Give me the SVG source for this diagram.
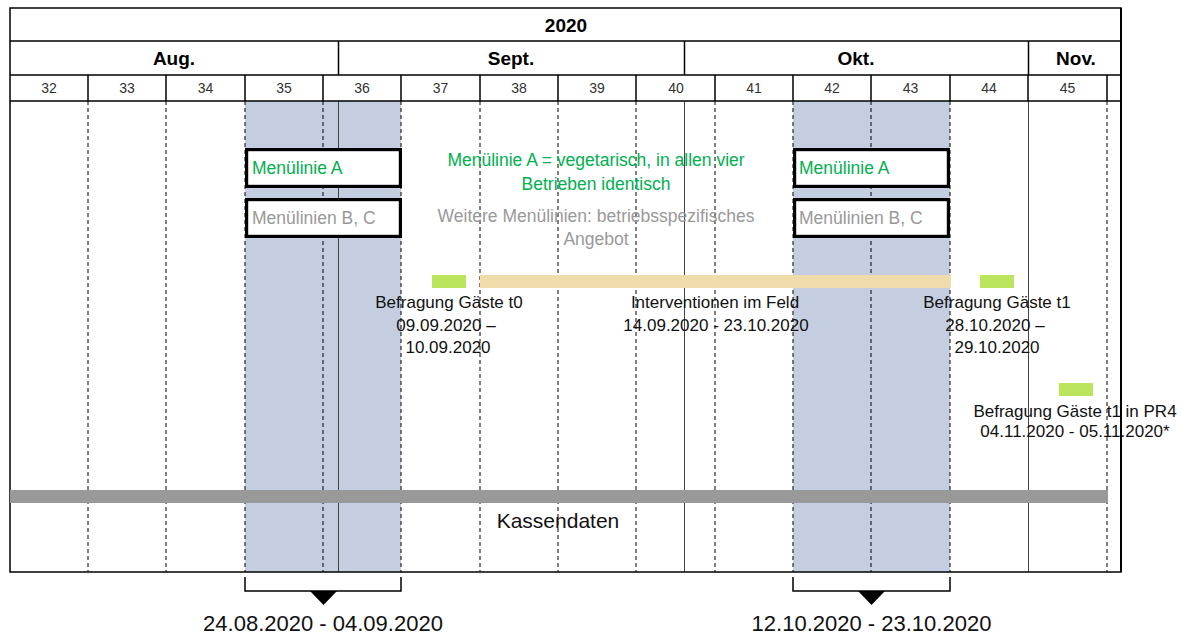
<svg xmlns="http://www.w3.org/2000/svg" width="1182" height="635" viewBox="0 0 1182 635">
<style>
.t{font-family:"Liberation Sans",Arial,sans-serif;}
.hb{font-family:"Liberation Sans",Arial,sans-serif;font-weight:bold;font-size:19px;fill:#000;text-anchor:middle;}
.wk{font-family:"Liberation Sans",Arial,sans-serif;font-size:14px;fill:#333;text-anchor:middle;}
.lbl{font-family:"Liberation Sans",Arial,sans-serif;font-size:17px;fill:#111;text-anchor:middle;}
.grn{fill:#00B050;}
.gry{fill:#999;}
.dash{stroke:#000;stroke-width:1;stroke-dasharray:4 3;fill:none;}
.msol{stroke:#444;stroke-width:1;fill:none;}
.hl{stroke:#000;stroke-width:1.5;fill:none;}
.box{fill:#fff;stroke:#000;stroke-width:3.2;}
.shade{fill:#C4CEE0;}
.gbar{fill:#BBE55C;}
</style>
<rect x="0" y="0" width="1182" height="635" fill="#fff"/>

<g id="shading">
<rect class="shade" x="245" y="101" width="156" height="471"/>
<rect class="shade" x="793" y="101" width="157" height="471"/>
</g>

<g id="grid">
<path class="dash" d="M88 101V572M166 101V572M245 101V572M323 101V572M401 101V572M480 101V572M558 101V572M636 101V572M715 101V572M793 101V572M871 101V572M950 101V572M1107 101V572"/>
<path class="msol" d="M338.5 101V572M684.5 101V572M1028.5 101V572"/>
</g>

<g id="header">
<rect x="10" y="8" width="1111" height="564" fill="none" stroke="#000" stroke-width="1.5"/>
<path class="hl" d="M10 41H1121M10 75H1121M10 101H1121"/>
<path class="hl" d="M338.5 41V75M684.5 41V75M1028.5 41V75"/>
<path class="hl" d="M88 75V101M166 75V101M245 75V101M323 75V101M401 75V101M480 75V101M558 75V101M636 75V101M715 75V101M793 75V101M871 75V101M950 75V101M1028 75V101M1107 75V101"/>
<path d="M1121 8V572" stroke="#000" stroke-width="2"/>
<text class="hb" x="566" y="31.5" font-size="20.5">2020</text>
<text class="hb" x="174" y="65">Aug.</text>
<text class="hb" x="511" y="65">Sept.</text>
<text class="hb" x="856" y="65">Okt.</text>
<text class="hb" x="1076" y="65">Nov.</text>
<text class="wk" x="49" y="93">32</text>
<text class="wk" x="127" y="93">33</text>
<text class="wk" x="205.5" y="93">34</text>
<text class="wk" x="284" y="93">35</text>
<text class="wk" x="362" y="93">36</text>
<text class="wk" x="440.5" y="93">37</text>
<text class="wk" x="519" y="93">38</text>
<text class="wk" x="597" y="93">39</text>
<text class="wk" x="676" y="93">40</text>
<text class="wk" x="754" y="93">41</text>
<text class="wk" x="832" y="93">42</text>
<text class="wk" x="910.5" y="93">43</text>
<text class="wk" x="989" y="93">44</text>
<text class="wk" x="1067.5" y="93">45</text>
</g>

<g id="menu-left">
<rect class="box" x="246.6" y="149.6" width="153.8" height="36.8"/>
<text class="t grn" x="252" y="174" font-size="17.5">Menülinie A</text>
<rect class="box" x="246.6" y="199.6" width="153.8" height="36.8"/>
<text class="t gry" x="252" y="224" font-size="17.5">Menülinien B, C</text>
</g>

<g id="menu-right">
<rect class="box" x="794.6" y="149.6" width="153.8" height="36.8"/>
<text class="t grn" x="799" y="174" font-size="17.5">Menülinie A</text>
<rect class="box" x="794.6" y="199.6" width="153.8" height="36.8"/>
<text class="t gry" x="799" y="224" font-size="17.5">Menülinien B, C</text>
</g>

<g id="menu-notes">
<text class="t grn" x="596" y="166" font-size="17.5" text-anchor="middle">Menülinie A = vegetarisch, in allen vier</text>
<text class="t grn" x="596" y="190" font-size="17.5" text-anchor="middle">Betrieben identisch</text>
<text class="t gry" x="596" y="221.5" font-size="17.5" text-anchor="middle">Weitere Menülinien: betriebsspezifisches</text>
<text class="t gry" x="596" y="244.5" font-size="17.5" text-anchor="middle">Angebot</text>
</g>

<g id="survey-t0">
<rect class="gbar" x="432" y="275" width="34" height="13"/>
<text class="lbl" x="449" y="308">Befragung Gäste t0</text>
<text class="lbl" x="446" y="331">09.09.2020 –</text>
<text class="lbl" x="448" y="353">10.09.2020</text>
</g>

<g id="interventions">
<rect x="480" y="275" width="471" height="13" fill="#F0DCAB"/>
<text class="lbl" x="715" y="308">Interventionen im Feld</text>
<text class="lbl" x="716" y="331">14.09.2020 - 23.10.2020</text>
</g>

<g id="survey-t1">
<rect class="gbar" x="980" y="275" width="34" height="13"/>
<text class="lbl" x="997" y="308">Befragung Gäste t1</text>
<text class="lbl" x="995" y="331">28.10.2020 –</text>
<text class="lbl" x="997" y="353">29.10.2020</text>
</g>

<g id="survey-t1-pr4">
<rect class="gbar" x="1059" y="383" width="34" height="13"/>
<text class="lbl" x="1075" y="417">Befragung Gäste t1 in PR4</text>
<text class="lbl" x="1075" y="437">04.11.2020 - 05.11.2020*</text>
</g>

<g id="kassendaten">
<rect x="10" y="490" width="1098" height="13" fill="#999"/>
<text class="t" x="558" y="528" font-size="21" text-anchor="middle" fill="#111">Kassendaten</text>
</g>

<g id="connectors">
<path d="M245 577V591H401V577" fill="none" stroke="#000" stroke-width="1.5"/>
<polygon points="310,591 337,591 323.5,605" fill="#000"/>
<path d="M793 577V591H950V577" fill="none" stroke="#000" stroke-width="1.5"/>
<polygon points="858,591 885,591 871.5,605" fill="#000"/>
</g>

<g id="period-labels">
<text class="t" x="323" y="631" font-size="22" text-anchor="middle" fill="#111">24.08.2020 - 04.09.2020</text>
<text class="t" x="871.5" y="631" font-size="22" text-anchor="middle" fill="#111">12.10.2020 - 23.10.2020</text>
</g>
</svg>
